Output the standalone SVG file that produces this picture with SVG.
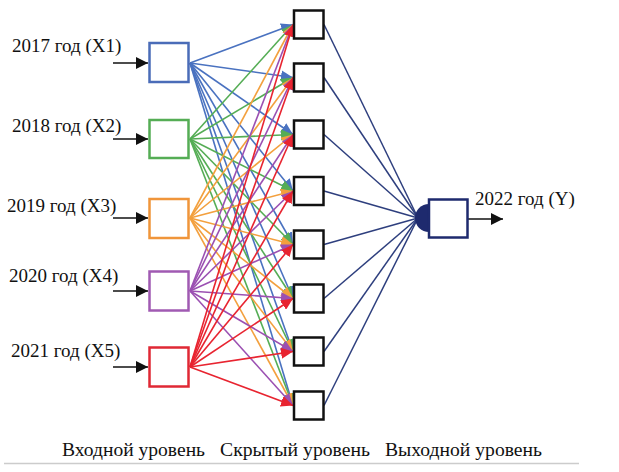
<svg xmlns="http://www.w3.org/2000/svg" width="619" height="472" viewBox="0 0 619 472">
<style>
text{font-family:"Liberation Serif","Times New Roman",serif;font-size:19px;fill:#111}
.box{fill:#fff;stroke-width:2.5}
.hid{fill:#fff;stroke:#111;stroke-width:2.5}
.c1{stroke:#4a72c0}.c2{stroke:#55ad55}.c3{stroke:#f3a03e}.c4{stroke:#9b50b2}.c5{stroke:#e82430}
.l{stroke-width:1.6;fill:none}
.o{stroke:#2e3f7e;stroke-width:1.5;fill:none}
</style>
<defs>
<marker id="m1" markerUnits="userSpaceOnUse" markerWidth="13" markerHeight="11" refX="12" refY="5.5" orient="auto"><path d="M0,0 L12,5.5 L0,11 z" fill="#4a72c0"/></marker>
<marker id="m2" markerUnits="userSpaceOnUse" markerWidth="13" markerHeight="11" refX="12" refY="5.5" orient="auto"><path d="M0,0 L12,5.5 L0,11 z" fill="#55ad55"/></marker>
<marker id="m3" markerUnits="userSpaceOnUse" markerWidth="13" markerHeight="11" refX="12" refY="5.5" orient="auto"><path d="M0,0 L12,5.5 L0,11 z" fill="#f3a03e"/></marker>
<marker id="m4" markerUnits="userSpaceOnUse" markerWidth="13" markerHeight="11" refX="12" refY="5.5" orient="auto"><path d="M0,0 L12,5.5 L0,11 z" fill="#9b50b2"/></marker>
<marker id="m5" markerUnits="userSpaceOnUse" markerWidth="13" markerHeight="11" refX="12" refY="5.5" orient="auto"><path d="M0,0 L12,5.5 L0,11 z" fill="#e82430"/></marker>
<marker id="mk" markerUnits="userSpaceOnUse" markerWidth="13" markerHeight="12" refX="12" refY="6" orient="auto"><path d="M0,0 L12,6 L0,12 z" fill="#111"/></marker>
</defs>
<g id="connectors">
<g class="l c1" marker-end="url(#m1)">
<line x1="190" y1="63" x2="293" y2="24.5"/><line x1="190" y1="63" x2="293" y2="77.5"/><line x1="190" y1="63" x2="293" y2="134.5"/><line x1="190" y1="63" x2="293" y2="191"/><line x1="190" y1="63" x2="293" y2="244.5"/><line x1="190" y1="63" x2="293" y2="298.5"/><line x1="190" y1="63" x2="293" y2="351.5"/><line x1="190" y1="63" x2="293" y2="405.5"/>
</g>
<g class="l c2" marker-end="url(#m2)">
<line x1="190" y1="139" x2="293" y2="24.5"/><line x1="190" y1="139" x2="293" y2="77.5"/><line x1="190" y1="139" x2="293" y2="134.5"/><line x1="190" y1="139" x2="293" y2="191"/><line x1="190" y1="139" x2="293" y2="244.5"/><line x1="190" y1="139" x2="293" y2="298.5"/><line x1="190" y1="139" x2="293" y2="351.5"/><line x1="190" y1="139" x2="293" y2="405.5"/>
</g>
<g class="l c3" marker-end="url(#m3)">
<line x1="190" y1="218" x2="293" y2="24.5"/><line x1="190" y1="218" x2="293" y2="77.5"/><line x1="190" y1="218" x2="293" y2="134.5"/><line x1="190" y1="218" x2="293" y2="191"/><line x1="190" y1="218" x2="293" y2="244.5"/><line x1="190" y1="218" x2="293" y2="298.5"/><line x1="190" y1="218" x2="293" y2="351.5"/><line x1="190" y1="218" x2="293" y2="405.5"/>
</g>
<g class="l c4" marker-end="url(#m4)">
<line x1="190" y1="291" x2="293" y2="24.5"/><line x1="190" y1="291" x2="293" y2="77.5"/><line x1="190" y1="291" x2="293" y2="134.5"/><line x1="190" y1="291" x2="293" y2="191"/><line x1="190" y1="291" x2="293" y2="244.5"/><line x1="190" y1="291" x2="293" y2="298.5"/><line x1="190" y1="291" x2="293" y2="351.5"/><line x1="190" y1="291" x2="293" y2="405.5"/>
</g>
<g class="l c5" marker-end="url(#m5)">
<line x1="190" y1="367" x2="293" y2="24.5"/><line x1="190" y1="367" x2="293" y2="77.5"/><line x1="190" y1="367" x2="293" y2="134.5"/><line x1="190" y1="367" x2="293" y2="191"/><line x1="190" y1="367" x2="293" y2="244.5"/><line x1="190" y1="367" x2="293" y2="298.5"/><line x1="190" y1="367" x2="293" y2="351.5"/><line x1="190" y1="367" x2="293" y2="405.5"/>
</g>
<g class="o">
<line x1="324" y1="24.5" x2="418" y2="218"/><line x1="324" y1="77.5" x2="418" y2="218"/><line x1="324" y1="134.5" x2="418" y2="218"/><line x1="324" y1="191" x2="418" y2="218"/><line x1="324" y1="244.5" x2="418" y2="218"/><line x1="324" y1="298.5" x2="418" y2="218"/><line x1="324" y1="351.5" x2="418" y2="218"/><line x1="324" y1="405.5" x2="418" y2="218"/>
</g>
<path d="M429,204 A14,14 0 0 0 429,232 Z" fill="#1e2a6e"/>
<g stroke="#111" stroke-width="1.5" marker-end="url(#mk)">
<line x1="113" y1="63" x2="148" y2="63"/><line x1="113" y1="139" x2="148" y2="139"/><line x1="113" y1="218" x2="148" y2="218"/><line x1="113" y1="291" x2="148" y2="291"/><line x1="113" y1="367" x2="148" y2="367"/><line x1="468" y1="219" x2="503" y2="219"/>
</g>
</g>
<g id="x1"><rect class="box" x="149.5" y="43" width="39" height="39" stroke="#4a6cb8"/><text x="12" y="52">2017 год (X1)</text></g>
<g id="x2"><rect class="box" x="149.5" y="120" width="39" height="38" stroke="#55ad55"/><text x="12" y="132">2018 год (X2)</text></g>
<g id="x3"><rect class="box" x="149.5" y="199" width="39" height="39" stroke="#f0953a"/><text x="7" y="212">2019 год (X3)</text></g>
<g id="x4"><rect class="box" x="149.5" y="271.5" width="39" height="39" stroke="#a05ab2"/><text x="9" y="282">2020 год (X4)</text></g>
<g id="x5"><rect class="box" x="149.5" y="347.5" width="39" height="39" stroke="#e02834"/><text x="11" y="357">2021 год (X5)</text></g>
<g id="h1"><rect class="hid" x="294" y="10.5" width="29.5" height="28"/></g>
<g id="h2"><rect class="hid" x="294" y="63.5" width="29.5" height="28"/></g>
<g id="h3"><rect class="hid" x="294" y="120.5" width="29.5" height="28"/></g>
<g id="h4"><rect class="hid" x="294" y="177" width="29.5" height="28"/></g>
<g id="h5"><rect class="hid" x="294" y="230.5" width="29.5" height="28"/></g>
<g id="h6"><rect class="hid" x="294" y="284.5" width="29.5" height="28"/></g>
<g id="h7"><rect class="hid" x="294" y="337.5" width="29.5" height="28"/></g>
<g id="h8"><rect class="hid" x="294" y="391.5" width="29.5" height="28"/></g>
<g id="y"><rect x="429" y="199.5" width="38.5" height="38" fill="#fff" stroke="#1e2a6e" stroke-width="2.5"/><text x="475" y="205">2022 год (Y)</text></g>
<g id="legend">
<text x="62" y="456" textLength="143" lengthAdjust="spacingAndGlyphs">Входной уровень</text>
<text x="220" y="456" textLength="150" lengthAdjust="spacingAndGlyphs">Скрытый уровень</text>
<text x="385" y="456" textLength="157" lengthAdjust="spacingAndGlyphs">Выходной уровень</text>
<line x1="4" y1="463.5" x2="579" y2="463.5" stroke="#ccc" stroke-width="1.5"/>
</g>
</svg>
